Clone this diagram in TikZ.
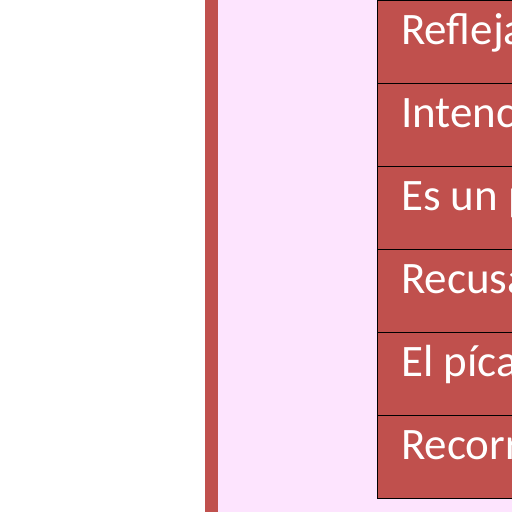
\documentclass[tikz,border=0pt]{standalone}
\usepackage{fontspec}
\setmainfont{Carlito}
\definecolor{accred}{RGB}{192,80,77}
\definecolor{pinkbg}{RGB}{253,228,254}
\begin{document}
\begin{tikzpicture}[x=1pt,y=-1pt,
  rowbox/.style={draw=black,line width=1.3pt,fill=accred,minimum width=200pt,minimum height=83pt,anchor=north west,inner sep=0pt},
  rowtext/.style={text=white,font=\fontsize{45}{45}\selectfont,anchor=base west,inner sep=0pt}]
\useasboundingbox (0,0) rectangle (512,512);
\clip (0,0) rectangle (512,512);
\fill[white] (0,0) rectangle (512,512);
\fill[accred] (205,0) rectangle (218,512);
\fill[pinkbg] (218,0) rectangle (512,512);
\foreach \i/\t in {0/Refleja,1/Intenc,2/Es un p,3/Recusa,4/El píca,5/Recorr}{
  \node[rowbox] (r\i) at (377,{\i*83}) {};
  \node[rowtext] (t\i) at (401,{\i*83+44}) {\t};
}
\end{tikzpicture}
\end{document}
